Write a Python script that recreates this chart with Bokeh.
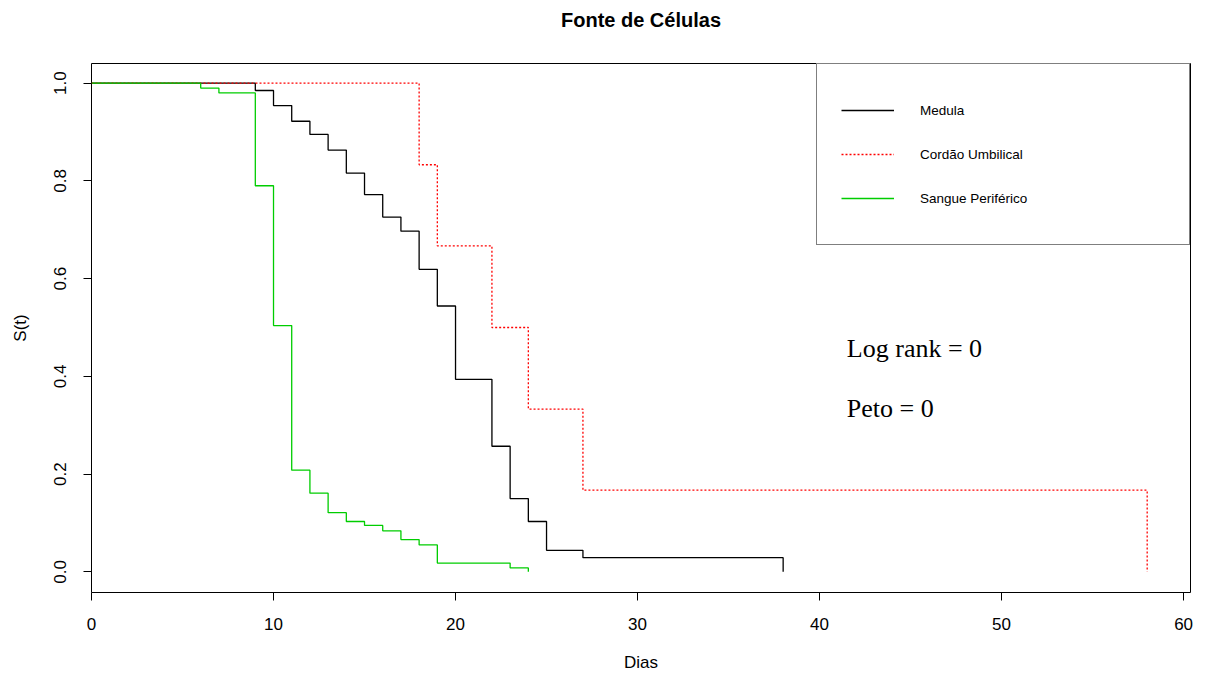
from bokeh.plotting import figure
from bokeh.models import Range1d, FixedTicker, NumeralTickFormatter, Legend, LegendItem, Label, Title
from bokeh.embed import file_html
from bokeh.resources import INLINE

# ---- data ----
medula_t = [0, 9, 10, 11, 12, 13, 14, 15, 16, 17, 18, 19, 20, 22, 23, 24, 25, 27, 38]
medula_s = [1.0, 0.985, 0.954, 0.922, 0.895, 0.863, 0.816, 0.772, 0.726, 0.697,
            0.619, 0.544, 0.394, 0.257, 0.150, 0.103, 0.044, 0.029, 0.0]

cordao_t = [0, 18, 19, 22, 24, 27, 58]
cordao_s = [1.0, 0.833, 0.667, 0.5, 0.333, 0.167, 0.0]

sangue_t = [0, 6, 7, 9, 10, 11, 12, 13, 14, 15, 16, 17, 18, 19, 23, 24]
sangue_s = [1.0, 0.99, 0.98, 0.79, 0.504, 0.208, 0.161, 0.121, 0.103, 0.095,
            0.084, 0.066, 0.055, 0.018, 0.008, 0.0]

series_names = ["Medula", "Cordão Umbilical", "Sangue Periférico"]
x_ticks = [0, 10, 20, 30, 40, 50, 60]
y_ticks = [0.0, 0.2, 0.4, 0.6, 0.8, 1.0]
stat_texts = ["Log rank = 0", "Peto = 0"]
title_text = "Fonte de Células"

SANS = "Liberation Sans"
SERIF = "Liberation Serif"

p = figure(width=1205, height=674, output_backend="svg", toolbar_location=None, title=None,
           x_range=Range1d(0, 60.38), y_range=Range1d(-0.0423, 1.0402),
           min_border_left=91, min_border_right=15, min_border_top=63, min_border_bottom=81)

# spacer (nearest the frame) then the real title above it
p.add_layout(Title(text=" ", text_font=SANS, text_font_size="10px", standoff=20), "above")
p.add_layout(Title(text=title_text, align="center", text_font=SANS, text_font_size="20px",
                   text_font_style="bold", text_color="black", standoff=0), "above")

p.grid.visible = False
p.outline_line_color = "black"
p.outline_line_width = 1
p.background_fill_color = "white"
p.border_fill_color = "white"

for ax in (p.xaxis[0], p.yaxis[0]):
    ax.axis_line_color = None
    ax.major_tick_in = 0
    ax.major_tick_out = 8
    ax.minor_tick_line_color = None
    ax.major_tick_line_color = "black"
    ax.major_label_text_font = SANS
    ax.major_label_text_font_size = "17px"
    ax.major_label_text_color = "black"
    ax.major_label_text_line_height = 1.0
    ax.axis_label_text_font = SANS
    ax.axis_label_text_font_size = "17px"
    ax.axis_label_text_font_style = "normal"
    ax.axis_label_text_color = "black"
    ax.axis_label_text_line_height = 1.0

p.xaxis.ticker = FixedTicker(ticks=x_ticks)
p.yaxis.ticker = FixedTicker(ticks=y_ticks)
p.yaxis.formatter = NumeralTickFormatter(format="0.0")
p.yaxis.major_label_orientation = "vertical"
p.xaxis.axis_label = "Dias"
p.yaxis.axis_label = "S(t)"
p.xaxis.major_label_standoff = 17
p.yaxis.major_label_standoff = 17
p.xaxis.axis_label_standoff = 20
p.yaxis.axis_label_standoff = 22

r1 = p.step(medula_t, medula_s, mode="after", line_color="black", line_width=1.3)
r2 = p.step(cordao_t, cordao_s, mode="after", line_color="red", line_width=1.3, line_dash="2 2")
r3 = p.step(sangue_t, sangue_s, mode="after", line_color="#00CD00", line_width=1.3)

legend = Legend(items=[LegendItem(label=series_names[0], renderers=[r1]),
                       LegendItem(label=series_names[1], renderers=[r2]),
                       LegendItem(label=series_names[2], renderers=[r3])],
                location="top_right", margin=0, padding=24, spacing=0,
                glyph_width=53, glyph_height=44, label_height=44, label_width=245,
                label_standoff=26, border_line_color="black", border_line_width=1,
                background_fill_color="white", background_fill_alpha=1.0,
                label_text_font=SANS, label_text_font_size="13.5px", label_text_color="black")
p.add_layout(legend)

p.add_layout(Label(x=41.5, y=0.456, text=stat_texts[0], text_font=SERIF, text_font_size="26px",
                   text_baseline="alphabetic", text_color="black"))
p.add_layout(Label(x=41.5, y=0.334, text=stat_texts[1], text_font=SERIF, text_font_size="26px",
                   text_baseline="alphabetic", text_color="black"))

open("out.html", "w").write(file_html(p, INLINE))
